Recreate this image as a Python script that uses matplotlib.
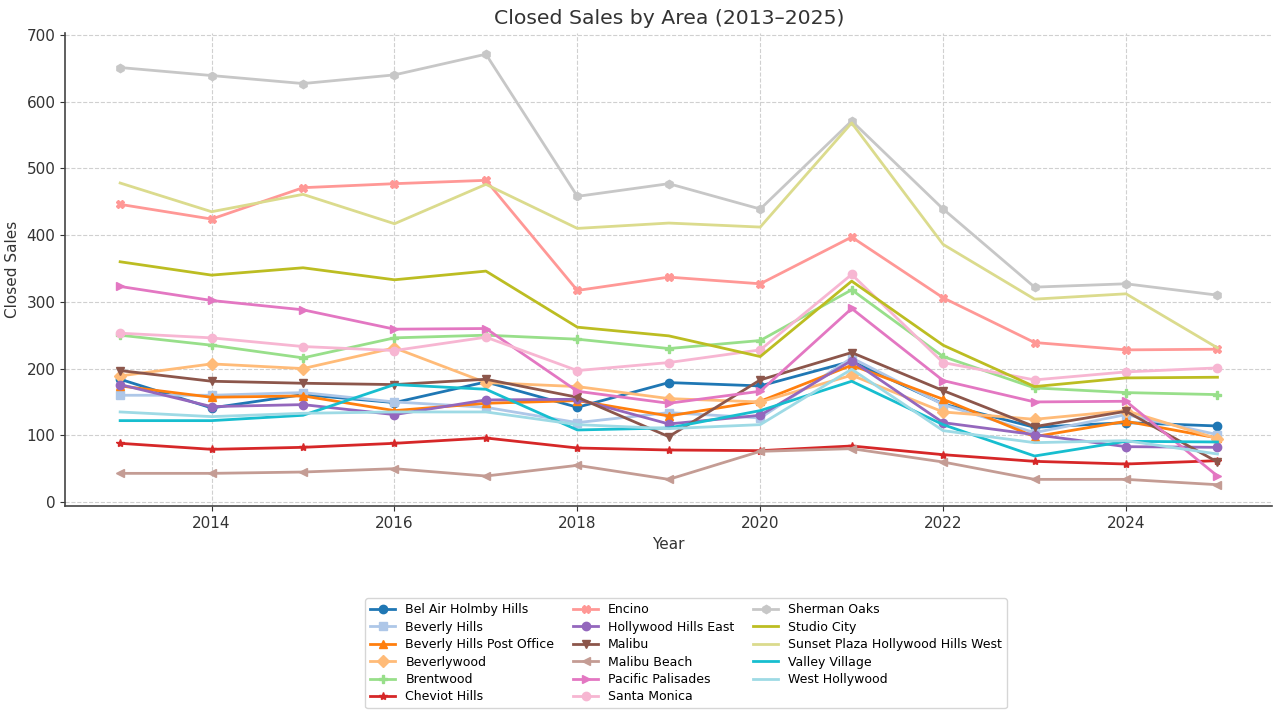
import matplotlib
matplotlib.use('Agg')
import numpy as np
import matplotlib.pyplot as plt

years = list(range(2013, 2026))

areas = [
    'Bel Air Holmby Hills', 'Beverly Hills', 'Beverly Hills Post Office', 'Beverlywood',
    'Brentwood', 'Cheviot Hills', 'Encino', 'Hollywood Hills East', 'Malibu',
    'Malibu Beach', 'Pacific Palisades', 'Santa Monica', 'Sherman Oaks', 'Studio City',
    'Sunset Plaza Hollywood Hills West', 'Valley Village', 'West Hollywood',
]

bel_air = [184, 141, 161, 149, 180, 142, 179, 174, 211, 147, 112, 119, 114]
beverly_hills = [160, 160, 164, 150, 142, 119, 134, 126, 216, 146, 104, 131, 101]
bhpo = [174, 157, 159, 137, 148, 152, 129, 151, 205, 154, 98, 121, 96]
beverlywood = [189, 207, 200, 231, 179, 173, 155, 150, 190, 135, 124, 137, 95]
brentwood = [250, 235, 216, 246, 250, 244, 230, 242, 318, 218, 171, 164, 161]
cheviot_hills = [88, 79, 82, 88, 96, 81, 78, 77, 84, 71, 61, 57, 62]
encino = [446, 424, 471, 477, 482, 317, 337, 327, 397, 306, 239, 228, 229]
hh_east = [176, 143, 146, 131, 153, 154, 117, 130, 212, 119, 101, 83, 82]
malibu = [197, 181, 178, 176, 184, 157, 98, 183, 224, 167, 113, 136, 60]
malibu_beach = [43, 43, 45, 50, 39, 55, 34, 76, 80, 60, 34, 34, 26]
pacific_palisades = [323, 302, 288, 259, 260, 166, 148, 166, 290, 182, 150, 151, 39]
santa_monica = [253, 246, 233, 227, 247, 197, 209, 228, 341, 209, 183, 195, 201]
sherman_oaks = [651, 639, 627, 640, 671, 458, 477, 439, 571, 439, 322, 327, 310]
studio_city = [360, 340, 351, 333, 346, 262, 249, 218, 331, 235, 173, 186, 187]
sunset_plaza = [478, 435, 461, 417, 476, 410, 418, 412, 568, 386, 304, 312, 231]
valley_village = [122, 122, 130, 176, 169, 108, 111, 137, 181, 116, 69, 91, 90]
west_hollywood = [135, 128, 133, 135, 135, 116, 110, 116, 199, 107, 89, 92, 72]

series = [bel_air, beverly_hills, bhpo, beverlywood, brentwood, cheviot_hills, encino,
          hh_east, malibu, malibu_beach, pacific_palisades, santa_monica, sherman_oaks,
          studio_city, sunset_plaza, valley_village, west_hollywood]

markers = ['o', 's', '^', 'D', 'P', '*', 'X', 'o', 'v', '<', '>', 'o', 'h',
           None, None, None, None]

# 17 colours spread across tab20
colors = plt.get_cmap('tab20')(np.linspace(0, 1, len(areas)))

fig = plt.figure(figsize=(12.8, 7.1), dpi=100)
ax = fig.add_axes([0.051, 0.287, 0.943, 0.667])

for i, (name, vals) in enumerate(zip(areas, series)):
    ax.plot(years, vals, marker=markers[i], markersize=6, linewidth=2,
            color=colors[i], label=name)

ax.set_title('Closed Sales by Area (2013–2025)', fontsize=14.7, color='#333333')
ax.set_xlabel('Year', fontsize=11, color='#333333')
ax.set_ylabel('Closed Sales', fontsize=11, color='#333333', labelpad=5)
ax.set_yticks(range(0, 701, 100))
ax.tick_params(labelsize=11, colors='#333333')
ax.grid(True, linestyle='--', color='#d0d0d0', linewidth=0.8)
for side in ['top', 'right']:
    ax.spines[side].set_visible(False)
for side in ['left', 'bottom']:
    ax.spines[side].set_color('#444444')
    ax.spines[side].set_linewidth(1.2)

fig.legend(loc='upper center', bbox_to_anchor=(0.536, 0.166), ncol=3,
           fontsize=9, labelspacing=0.35, columnspacing=1.5,
           frameon=True, edgecolor='#cccccc')

fig.savefig('out.png', dpi=100)
